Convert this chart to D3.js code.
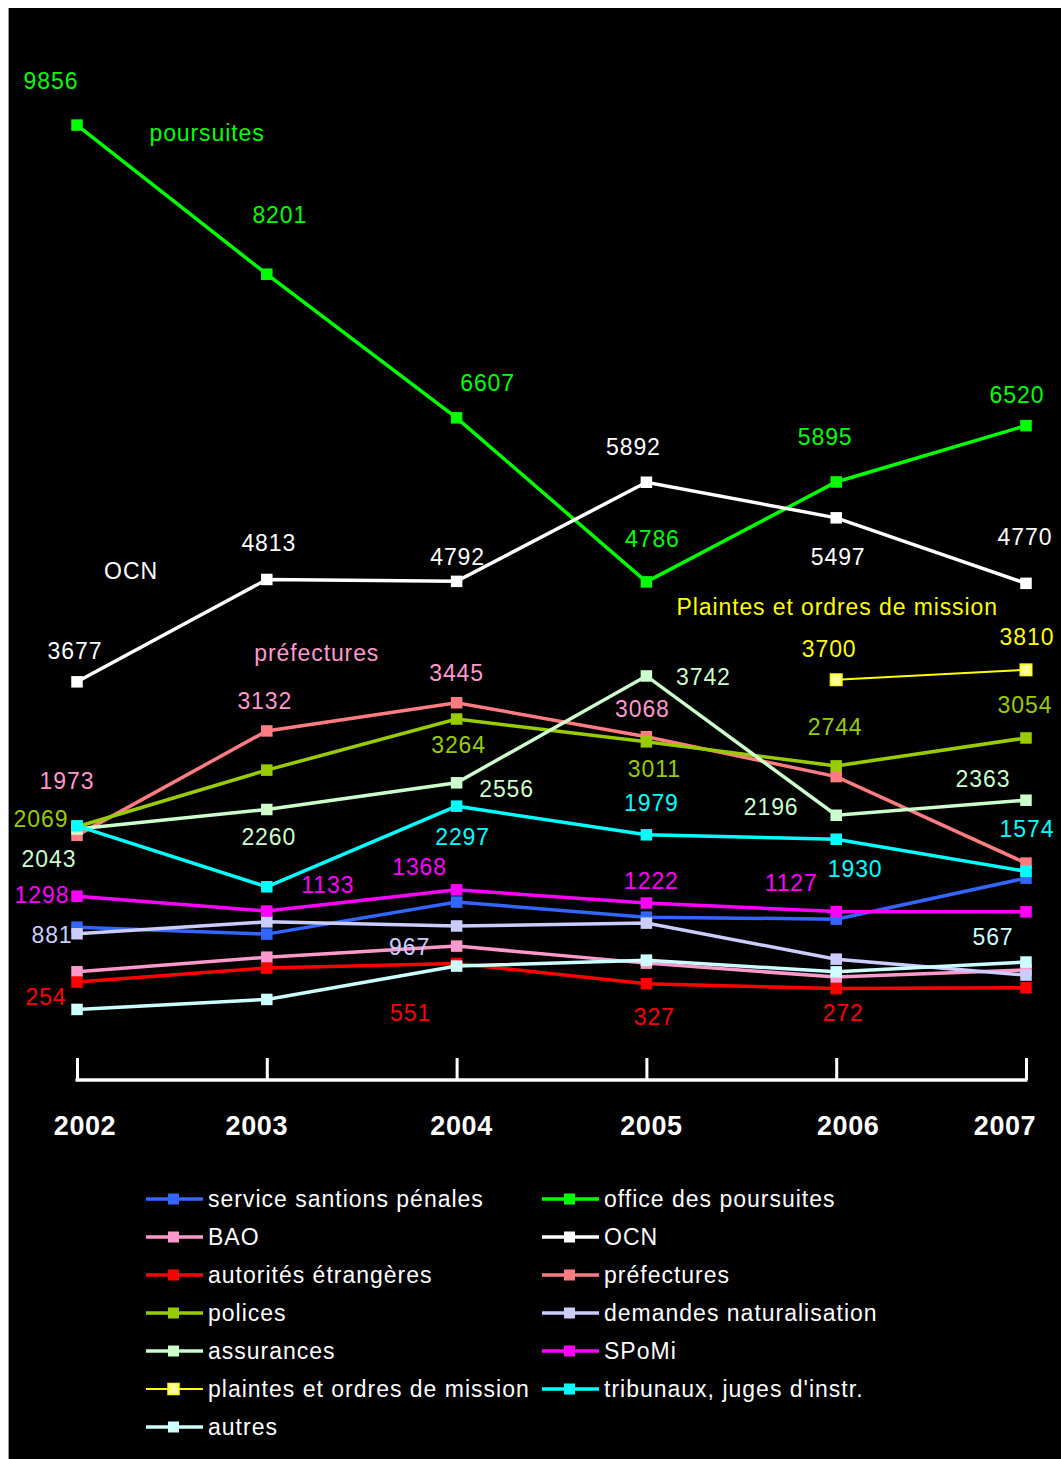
<!DOCTYPE html>
<html>
<head>
<meta charset="utf-8">
<script src="https://cdn.jsdelivr.net/npm/d3@7"></script>
<style>
  html, body { margin: 0; padding: 0; background: #ffffff; }
  svg { display: block; }
  text { font-family: "Liberation Sans", Arial, sans-serif; }
</style>
</head>
<body>
<svg id="chart" width="1061" height="1459"></svg>
<script>
// ---------- DATA ----------
const years = ["2002", "2003", "2004", "2005", "2006", "2007"];

const seriesNames = [
  "service santions pénales",
  "office des poursuites",
  "BAO",
  "OCN",
  "autorités étrangères",
  "préfectures",
  "polices",
  "demandes naturalisation",
  "assurances",
  "SPoMi",
  "plaintes et ordres de mission",
  "tribunaux, juges d'instr.",
  "autres"
];

const serviceSanctions   = [954, 877, 1232, 1065, 1043, 1498];
const officePoursuites   = [9856, 8201, 6607, 4786, 5895, 6520];
const bao                = [459, 621, 744, 555, 400, 480];
const ocn                = [3677, 4813, 4792, 5892, 5497, 4770];
const autoritesEtrangeres= [345, 500, 551, 327, 272, 282];
const prefectures        = [1973, 3132, 3445, 3068, 2625, 1665];
const polices            = [2069, 2697, 3264, 3011, 2744, 3054];
const demandesNatur      = [881, 1013, 967, 999, 599, 422];
const assurances         = [2043, 2260, 2556, 3742, 2196, 2363];
const spomi              = [1298, 1133, 1368, 1222, 1127, 1124];
const plaintes           = [null, null, null, null, 3700, 3810];
const tribunaux          = [2079, 1402, 2297, 1979, 1930, 1574];
const autres             = [41, 152, 522, 588, 458, 567];

const seriesValues = [serviceSanctions, officePoursuites, bao, ocn, autoritesEtrangeres,
  prefectures, polices, demandesNatur, assurances, spomi, plaintes, tribunaux, autres];

// value labels: [series index, year index, text]
const valueLabels = [
  [1,0,"9856"],[1,1,"8201"],[1,2,"6607"],[1,3,"4786"],[1,4,"5895"],[1,5,"6520"],
  [3,0,"3677"],[3,1,"4813"],[3,2,"4792"],[3,3,"5892"],[3,4,"5497"],[3,5,"4770"],
  [10,4,"3700"],[10,5,"3810"],
  [5,0,"1973"],[5,1,"3132"],[5,2,"3445"],[5,3,"3068"],
  [6,0,"2069"],[6,2,"3264"],[6,3,"3011"],[6,4,"2744"],[6,5,"3054"],
  [8,0,"2043"],[8,1,"2260"],[8,2,"2556"],[8,3,"3742"],[8,4,"2196"],[8,5,"2363"],
  [11,2,"2297"],[11,3,"1979"],[11,4,"1930"],[11,5,"1574"],
  [9,0,"1298"],[9,1,"1133"],[9,2,"1368"],[9,3,"1222"],[9,4,"1127"],
  [7,0,"881"],[7,2,"967"],
  [12,5,"567"],
  [4,0,"254"],[4,2,"551"],[4,3,"327"],[4,4,"272"]
];

// series name annotations: [series index, year index, text]
const seriesAnnotations = [
  [1,0,"poursuites"],
  [3,0,"OCN"],
  [10,4,"Plaintes et ordres de mission"],
  [5,1,"préfectures"]
];

// ---------- STYLE / LAYOUT ----------
const lineColors = ["#3366FF","#00FF00","#FF99CC","#FFFFFF","#FF0000","#FF7C80",
  "#99CC00","#CCCCFF","#CCFFCC","#FF00FF","#FFFF00","#00FFFF","#CCFFFF"];
const labelColors = ["#3366FF","#00FF00","#FF99CC","#FFFFFF","#FF0000","#FF99CC",
  "#99CC00","#CCCCFF","#CCFFCC","#FF00FF","#FFFF00","#00FFFF","#CCFFFF"];
const markerFill = lineColors.map((c,i) => i === 10 ? "#FFFF99" : c);
const lineWidths = lineColors.map((c,i) => i === 10 ? 2 : 3.5);

// pixel offsets of value labels from their points (same order as valueLabels)
const valueLabelOffsets = [
  [-26,-44],[13,-59],[31,-35],[6,-43],[-11,-45],[-9,-31],
  [-2,-31],[2,-36],[1,-24],[-13,-35],[2,39],[-1,-46],
  [-7,-31],[1,-33],
  [-10,-54],[-2,-30],[0,-30],[-4,-28],
  [-36,-8],[2,26],[8,27],[-1,-39],[-1,-33],
  [-28,30],[2,28],[50,6],[57,1],[-65,-8],[-43,-21],
  [6,31],[5,-32],[19,30],[1,-42],
  [-35,-1],[61,-26],[-37,-23],[5,-22],[-45,-29],
  [-25,1],[-47,21],
  [-33,-25],
  [-31,15],[-46,50],[8,33],[7,24]
];
const annotationOffsets = [[130,8],[54,-111],[1,-73],[50,-78]];
const yearLabelDx = [8,-10,5,5,12,-21];

const svg = d3.select("#chart");
const W = 1061, H = 1459;

// background
svg.append("rect").attr("x",0).attr("y",0).attr("width",W).attr("height",H).attr("fill","#ffffff");
svg.append("rect").attr("x",9).attr("y",8).attr("width",W-9).attr("height",H-8)
  .attr("fill","#000000");
svg.append("line").attr("x1",8.5).attr("x2",8.5).attr("y1",8).attr("y2",H)
  .attr("stroke","#9a9a9a").attr("stroke-width",1);

// scales
const x = d3.scalePoint().domain(years).range([77, 1026]);
const y = d3.scaleLinear().domain([-720, 11000]).range([1078, 22]);

// axis
const axisY = 1080;
const axis = d3.axisBottom(x).tickSize(-22).tickFormat("").tickSizeOuter(0);
const gAxis = svg.append("g").attr("transform", `translate(0,${axisY})`).call(axis);
gAxis.select(".domain").attr("stroke","#ffffff").attr("stroke-width",3.5)
  .attr("d", `M${x(years[0])-1.5},0H${x(years[years.length-1])+1.5}`);
gAxis.selectAll(".tick line").attr("stroke","#ffffff").attr("stroke-width",3);

// year labels
svg.append("g").selectAll("text").data(years).join("text")
  .attr("x", (d,i) => x(d) + yearLabelDx[i])
  .attr("y", 1135)
  .attr("text-anchor","middle")
  .attr("fill","#ffffff")
  .attr("font-weight","bold")
  .attr("font-size","27px")
  .attr("letter-spacing","0.6px")
  .text(d => d);

// lines & markers
const line = d3.line()
  .defined(d => d.v !== null)
  .x(d => x(d.year))
  .y(d => y(d.v));

seriesValues.forEach((vals, si) => {
  const pts = vals.map((v,i) => ({year: years[i], v}));
  const g = svg.append("g");
  g.append("path").datum(pts)
    .attr("d", line)
    .attr("fill","none")
    .attr("stroke", lineColors[si])
    .attr("stroke-width", lineWidths[si])
    .attr("stroke-linejoin","miter");
  const ms = 11.5;
  g.selectAll("rect").data(pts.filter(p => p.v !== null)).join("rect")
    .attr("x", d => x(d.year) - ms/2)
    .attr("y", d => y(d.v) - ms/2)
    .attr("width", ms).attr("height", ms)
    .attr("fill", markerFill[si])
    .attr("stroke", si === 10 ? lineColors[si] : "none")
    .attr("stroke-width", si === 10 ? 1.5 : 0);
});

// value labels
svg.append("g").selectAll("text").data(valueLabels).join("text")
  .attr("x", (d,i) => x(years[d[1]]) + valueLabelOffsets[i][0])
  .attr("y", (d,i) => y(seriesValues[d[0]][d[1]]) + valueLabelOffsets[i][1])
  .attr("text-anchor","middle")
  .attr("dominant-baseline","central")
  .attr("font-size","23px")
  .attr("letter-spacing","0.9px")
  .attr("fill", d => labelColors[d[0]])
  .text(d => d[2]);

// series annotations
svg.append("g").selectAll("text").data(seriesAnnotations).join("text")
  .attr("x", (d,i) => x(years[d[1]]) + annotationOffsets[i][0])
  .attr("y", (d,i) => y(seriesValues[d[0]][d[1]]) + annotationOffsets[i][1])
  .attr("text-anchor","middle")
  .attr("dominant-baseline","central")
  .attr("font-size","23px")
  .attr("letter-spacing","0.9px")
  .attr("fill", d => labelColors[d[0]])
  .text(d => d[2]);

// legend (row-major, two columns)
const legendCols = [146, 542];
const legendTop = 1199, legendRow = 38;
const lg = svg.append("g");
seriesNames.forEach((name, i) => {
  const col = i % 2, row = Math.floor(i / 2);
  const lx = legendCols[col], ly = legendTop + row * legendRow;
  lg.append("line").attr("x1", lx).attr("x2", lx + 57).attr("y1", ly).attr("y2", ly)
    .attr("stroke", lineColors[i]).attr("stroke-width", i === 10 ? 2 : 3.5);
  lg.append("rect").attr("x", lx + 22).attr("y", ly - 5.5).attr("width", 11).attr("height", 11)
    .attr("fill", markerFill[i])
    .attr("stroke", i === 10 ? lineColors[i] : "none").attr("stroke-width", i === 10 ? 1.5 : 0);
  lg.append("text").attr("x", lx + 62).attr("y", ly)
    .attr("dominant-baseline","central")
    .attr("font-size","23px")
    .attr("letter-spacing","1px")
    .attr("fill","#ffffff")
    .text(name);
});
</script>
</body>
</html>
